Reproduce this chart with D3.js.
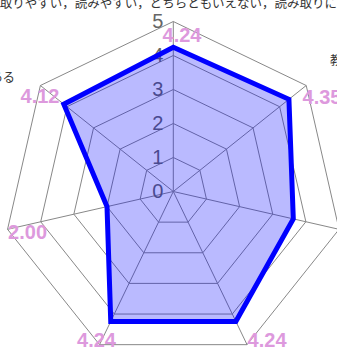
<!DOCTYPE html>
<html>
<head>
<meta charset="utf-8">
<script src="https://cdn.jsdelivr.net/npm/d3@7"></script>
<style>
  body { margin: 0; background: #fff; }
  svg { display: block; font-family: "Liberation Sans", Arial, sans-serif; }
</style>
</head>
<body>
<svg width="337" height="351"></svg>
<script>
// ### Data ###
var axisLabels = [
  ["読み取りやすい，読みやすい，どちらともいえない，読み取りにくい"],
  ["教材", "（図）"],
  ["図表"],
  ["内容"],
  ["構成"],
  ["用語"],
  ["説明がある"]
];
var values = [4.24, 4.35, 3.62, 4.24, 4.24, 2.00, 4.12];
var ticks = [0, 1, 2, 3, 4, 5];

// ### Canvas ###
var width = 337, height = 351;
var cx = 173.3, cy = 191.5;
var radius = 170;
var svg = d3.select('svg');

var n = values.length;
var angle = d3.scaleLinear().domain([0, n]).range([0, 2 * Math.PI]);
var r = d3.scaleLinear().domain([0, 5]).range([0, radius]);

function pt(i, v) {
  var a = angle(i);
  return [cx + r(v) * Math.sin(a), cy - r(v) * Math.cos(a)];
}

var g = svg.append('g');

// ### Grid ###
ticks.slice(1).forEach(function(t) {
  g.append('polygon')
    .attr('points', d3.range(n).map(i => pt(i, t).join(',')).join(' '))
    .attr('fill', 'none')
    .attr('stroke', '#888')
    .attr('stroke-width', 1);
});
d3.range(n).forEach(function(i) {
  var p = pt(i, 5);
  g.append('line')
    .attr('x1', cx).attr('y1', cy)
    .attr('x2', p[0]).attr('y2', p[1])
    .attr('stroke', '#888')
    .attr('stroke-width', 1);
});

// tick numbers on the top axis
g.selectAll('text.tick')
  .data(ticks)
  .enter()
  .append('text')
  .attr('class', 'tick')
  .attr('x', cx - 10)
  .attr('y', d => r.invert ? cy - r(d) + 6 : 0)
  .attr('text-anchor', 'end')
  .attr('font-size', 20)
  .attr('fill', '#666')
  .text(d => d);

// ### Axis labels (point labels) ###
var jp = '"Noto Sans CJK JP", sans-serif';
g.append('text')
  .attr('x', cx - 5).attr('y', 8)
  .attr('text-anchor', 'middle')
  .attr('font-family', jp)
  .attr('font-size', 12.5)
  .attr('fill', '#333')
  .text(axisLabels[0][0]);
g.append('text')
  .attr('x', 330).attr('y', 65)
  .attr('font-family', jp)
  .attr('font-size', 12.5)
  .attr('fill', '#333')
  .selectAll('tspan')
  .data(axisLabels[1])
  .enter()
  .append('tspan')
  .attr('x', 330)
  .attr('dy', (d, i) => i ? 15 : 0)
  .text(d => d);
g.append('text')
  .attr('x', 15).attr('y', 82)
  .attr('text-anchor', 'end')
  .attr('font-family', jp)
  .attr('font-size', 12.5)
  .attr('fill', '#333')
  .text(axisLabels[6][0]);

// ### Data polygon ###
var line = d3.line().curve(d3.curveLinearClosed);
g.append('path')
  .attr('d', line(values.map((v, i) => pt(i, v))))
  .attr('fill', 'rgba(0,0,255,0.27)')
  .attr('stroke', '#0000ff')
  .attr('stroke-width', 5)
  .attr('stroke-linejoin', 'miter');

// ### Value labels ###
var labelNudge = [[8.7, 13.5], [15.8, 11.5], [36, 2.7], [20, -4.7], [-3, -4.7], [20, 2.7], [-0.4, 10.5]];
g.selectAll('text.val')
  .data(values)
  .enter()
  .append('text')
  .attr('class', 'val')
  .attr('x', (d, i) => pt(i, 5)[0] + labelNudge[i][0])
  .attr('y', (d, i) => pt(i, 5)[1] + labelNudge[i][1] + 7)
  .attr('text-anchor', 'middle')
  .attr('font-size', 20)
  .attr('font-weight', 'bold')
  .attr('fill', '#dd99dd')
  .text(d => d.toFixed(2));
</script>
</body>
</html>
